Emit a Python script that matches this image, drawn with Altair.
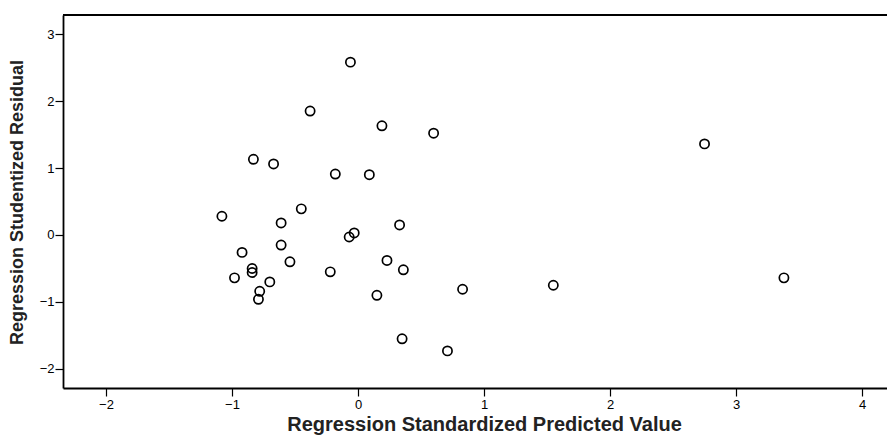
import altair as alt
import pandas as pd

# Regression Standardized Predicted Value (x) and Studentized Residual (y)
pred = [-0.06, -0.38, 0.19, 0.60, -0.83, -0.67, -0.18, 0.09, -0.45, -1.08,
        -0.61, 0.33, -0.03, -0.07, -0.92, -0.61, -0.54, 0.23, 0.36, -0.22,
        -0.84, -0.84, -0.98, -0.70, -0.78, -0.79, 0.15, 0.35, 0.71, 0.83,
        1.55, 3.38, 2.75]
resid = [2.58, 1.85, 1.63, 1.52, 1.13, 1.06, 0.91, 0.90, 0.39, 0.28,
         0.18, 0.15, 0.03, -0.03, -0.26, -0.15, -0.40, -0.38, -0.52, -0.55,
         -0.50, -0.56, -0.64, -0.70, -0.84, -0.96, -0.90, -1.55, -1.73, -0.81,
         -0.75, -0.64, 1.36]

x_ticks = [-2, -1, 0, 1, 2, 3, 4]
y_ticks = [-2, -1, 0, 1, 2, 3]

df = pd.DataFrame({"pred": pred, "resid": resid})

W, H = 824, 373
FONT = "Liberation Sans"

points = alt.Chart(df).mark_point(
    shape="circle", filled=False, color="black", size=85, strokeWidth=1.7, opacity=1
).encode(
    x=alt.X("pred:Q",
            scale=alt.Scale(domain=[-2.341, 4.198], nice=False, zero=False),
            axis=alt.Axis(values=x_ticks, title="Regression Standardized Predicted Value",
                          grid=False, tickSize=8, tickColor="black", tickWidth=1.2,
                          domainColor="black", domainWidth=1.8,
                          labelFont=FONT, labelFontSize=13, labelColor="black", labelPadding=2,
                          titleFont=FONT, titleFontSize=20, titleFontWeight="bold",
                          titleColor="#222222", titleX=421, titleY=36,
                          titleBaseline="middle", titleAlign="center")),
    y=alt.Y("resid:Q",
            scale=alt.Scale(domain=[-2.284, 3.284], nice=False, zero=False),
            axis=alt.Axis(values=y_ticks, title="Regression Studentized Residual",
                          grid=False, tickSize=8, tickColor="black", tickWidth=1.2,
                          domainColor="black", domainWidth=1.8,
                          labelFont=FONT, labelFontSize=13, labelColor="black", labelPadding=1,
                          titleFont=FONT, titleFontSize=18, titleFontWeight="bold",
                          titleColor="#222222", titleX=-46, titleY=187, titleAngle=270,
                          titleBaseline="middle", titleAlign="center")),
)

top_frame = alt.Chart(df).mark_rule(color="black", strokeWidth=1.8).encode(
    x=alt.value(0), x2=alt.value(W), y=alt.value(0)
)

chart = alt.layer(points, top_frame).properties(
    width=W, height=H,
    padding={"left": 55, "top": 7, "right": 0, "bottom": 47},
    autosize=alt.AutoSizeParams(type="none"),
    background="white",
).configure_view(stroke=None)

chart.save("out.html", embed_options={"renderer": "svg", "actions": False})
